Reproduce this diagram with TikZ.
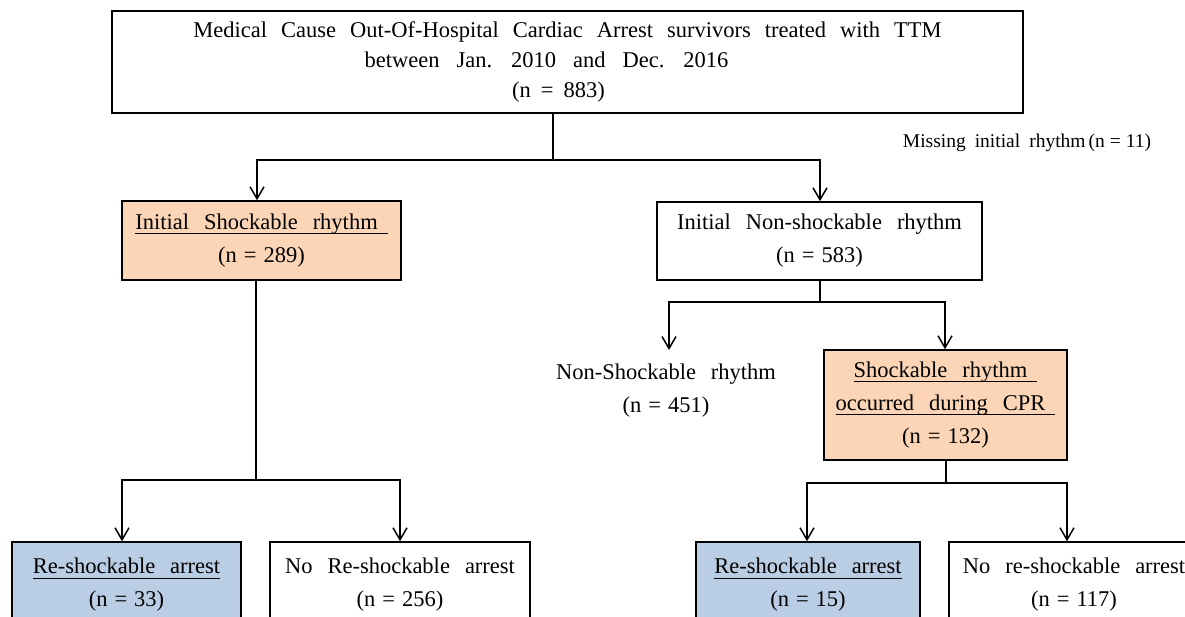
\documentclass[tikz,border=0pt]{standalone}
\usepackage{fontspec}
\setmainfont{Liberation Serif}
\usetikzlibrary{arrows.meta}
\definecolor{peach}{HTML}{FBD5B5}
\definecolor{lblue}{HTML}{B9CDE5}
\newcommand{\bodyfont}{\fontsize{22.5}{33}\selectfont\spaceskip=15pt plus 1pt\relax}
\newcommand{\topfont}{\fontsize{22.5}{30}\selectfont\spaceskip=14pt plus 1pt\relax}
\newcommand{\missfont}{\fontsize{19.5}{22}\selectfont\spaceskip=9pt plus 1pt\relax}
\newcommand{\nval}[2][7pt]{(n\hspace{#1}=\hspace{#1}#2)}
\newsavebox{\ulnbox}
\newcommand{\uln}[2][0pt]{\sbox{\ulnbox}{#2\hspace{#1}}\rlap{\rule[-5pt]{\wd\ulnbox}{1.2pt}}\usebox{\ulnbox}}
\begin{document}
\begin{tikzpicture}[x=1pt,y=-1pt,
  box/.style={draw=black, line width=1.5pt, inner sep=0pt, align=center, font=\bodyfont},
  plain/.style={inner sep=0pt, align=center, font=\bodyfont},
  conn/.style={line width=1.5pt},
  arr/.style={line width=1.5pt, -{Straight Barb[length=12pt,width=14pt,line width=1.5pt]}}]
\path[use as bounding box] (0,0) rectangle (1185,616);
\clip (0,0) rectangle (1185,616);

\node[box, minimum width=911pt, minimum height=102pt, font=\topfont] (top) at (567.5,62)
  {Medical Cause Out-Of-Hospital Cardiac Arrest survivors treated with TTM\\
   {\spaceskip=17pt plus 1pt\relax between Jan. 2010 and Dec. 2016}\kern42pt\\ \nval[10pt]{883}\kern18pt};

\node[inner sep=0pt, font=\missfont] (miss) at (1027,143) {Missing initial rhythm\hspace{3pt}\nval[5pt]{11}};

\node[box, fill=peach, minimum width=279pt, minimum height=79pt] (ishock) at (261.5,240.5)
  {\uln[10pt]{Initial Shockable rhythm}\\ \nval{289}};
\node[box, minimum width=325pt, minimum height=78pt] (inon) at (819.5,241)
  {Initial Non-shockable rhythm\\ \nval{583}};

\node[plain] (nons) at (666,391) {Non-Shockable rhythm\\ \nval{451}};
\node[box, fill=peach, minimum width=243pt, minimum height=110pt] (occ) at (945.5,405)
  {\uln[10pt]{Shockable rhythm}\\ \uln[10pt]{occurred during CPR}\\ \nval{132}};

\node[box, fill=lblue, minimum width=229pt, minimum height=86pt] (ra) at (126.5,585)
  {\uln{Re-shockable arrest}\\ \nval{33}};
\node[box, minimum width=260pt, minimum height=86pt] (nra) at (400,585)
  {No Re-shockable arrest\\ \nval{256}};
\node[box, fill=lblue, minimum width=224pt, minimum height=86pt] (rb) at (808,585)
  {\uln{Re-shockable arrest}\\ \nval{15}};
\node[box, minimum width=250pt, minimum height=86pt] (nrb) at (1074,585)
  {No re-shockable arrest\\ \nval{117}};

% connectors
\coordinate (j1) at (553,160);
\coordinate (j1a) at (257,160);
\coordinate (j1b) at (820,160);
\draw[conn] (top.south -| j1) -- (j1);
\draw[arr] (j1) -- (j1a) -- (j1a |- ishock.north);
\draw[arr] (j1) -- (j1b) -- (j1b |- inon.north);

\coordinate (j2) at (256,480);
\coordinate (j2a) at (122,480);
\coordinate (j2b) at (400,480);
\draw[conn] (ishock.south -| j2) -- (j2);
\draw[arr] (j2) -- (j2a) -- (j2a |- ra.north);
\draw[arr] (j2) -- (j2b) -- (j2b |- nra.north);

\coordinate (j3) at (820,302);
\coordinate (j3a) at (669,302);
\coordinate (j3b) at (945,302);
\coordinate (nsend) at (669,350);
\draw[conn] (inon.south -| j3) -- (j3);
\draw[arr] (j3) -- (j3a) -- (nsend);
\draw[arr] (j3) -- (j3b) -- (j3b |- occ.north);

\coordinate (j4) at (946,483);
\coordinate (j4a) at (807,483);
\coordinate (j4b) at (1067,483);
\draw[conn] (occ.south -| j4) -- (j4);
\draw[arr] (j4) -- (j4a) -- (j4a |- rb.north);
\draw[arr] (j4) -- (j4b) -- (j4b |- nrb.north);
\end{tikzpicture}
\end{document}
